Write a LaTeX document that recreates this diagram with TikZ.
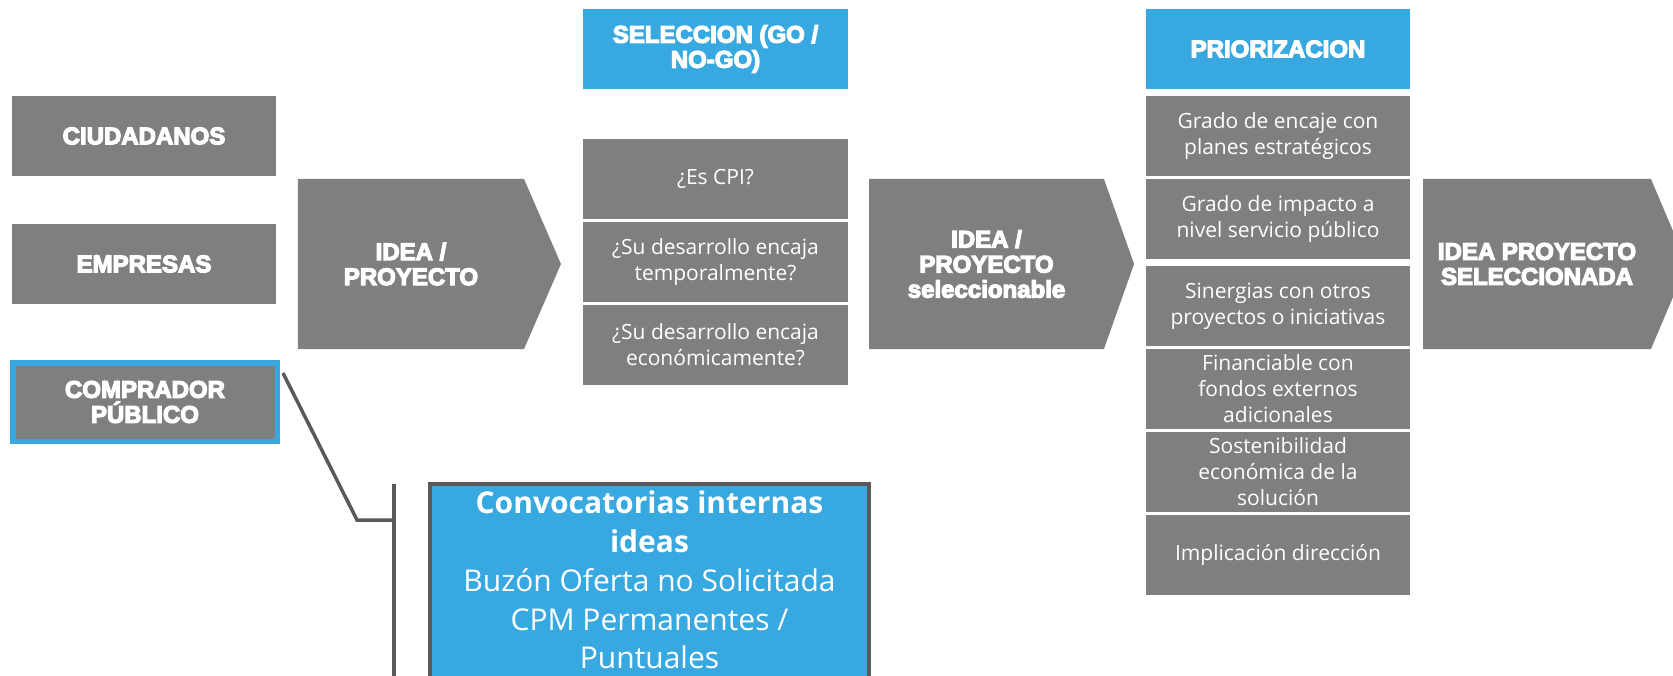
\documentclass[tikz,border=0pt]{standalone}
\usepackage{fontspec}
\setmainfont{Open Sans}
\newfontfamily\blackfont{Liberation Sans}[BoldFeatures={FakeBold=5}]
\usetikzlibrary{positioning,shapes.symbols}

\definecolor{boxgray}{HTML}{7F7F7F}
\definecolor{headblue}{HTML}{38A8E0}
\definecolor{linegray}{HTML}{595959}

\begin{document}
\begin{tikzpicture}[x=1pt, y=-1pt, node distance=83pt,
    gray box/.style={rectangle, fill=boxgray, text=white, minimum width=264pt, minimum height=80pt, inner sep=0pt, align=center},
    source box/.style={gray box, font={\blackfont\bfseries\fontsize{24}{25}\selectfont}},
    head box/.style={source box, fill=headblue},
    crit box/.style={gray box, font=\fontsize{21}{26}\selectfont},
    step arrow/.style={signal, signal to=east, signal pointer angle=133, fill=boxgray, text=white, inner sep=0pt,
                       minimum width=263pt, minimum height=170pt, align=center, font={\blackfont\bfseries\fontsize{24}{25}\selectfont}},
    bracket/.style={draw=linegray, line width=3.5pt}]
    \path[fill=white, use as bounding box] (0,0) rectangle (1673,676);
    \clip (0,0) rectangle (1673,676);

    % de donde vienen las ideas
    \node[source box] (ciud) at (144,136) {CIUDADANOS};
    \node[source box] (emp) at (144,264) {EMPRESAS};
    \node[source box, draw=headblue, line width=5.5pt, minimum width=264.5pt, minimum height=78.5pt] (comp) at (145,402) {COMPRADOR\\PÚBLICO};
    \node[step arrow] (idea) at (411,264) {IDEA /\\PROYECTO};

    % seleccion
    \node[head box, minimum width=265pt] (sel) at (715.5,49) {SELECCION (GO /\\NO-GO)};
    \node[crit box, minimum width=265pt] (q1) at (715.5,179) {¿Es CPI?};
    \node[crit box, minimum width=265pt, below of=q1] (q2) {¿Su desarrollo encaja\\temporalmente?};
    \node[crit box, minimum width=265pt, below of=q2] (q3) {¿Su desarrollo encaja\\económicamente?};
    \node[step arrow, minimum width=265pt, signal pointer angle=141] (selec) at (986.5,264) {IDEA /\\PROYECTO\\seleccionable};

    % priorizacion
    \node[head box] (prio) at (1278,49) {PRIORIZACION};
    \node[crit box] (p1) at (1278,136) {Grado de encaje con\\planes estratégicos};
    \node[crit box, below of=p1] (p2) {Grado de impacto a\\nivel servicio público};
    \node[crit box] (p3) at (1278,306) {Sinergias con otros\\proyectos o iniciativas};
    \node[crit box, below of=p3] (p4) {Financiable con\\fondos externos\\adicionales};
    \node[crit box, below of=p4] (p5) {Sostenibilidad\\económica de la\\solución};
    \node[crit box, below of=p5] (p6) {Implicación dirección};
    \node[step arrow, minimum width=264pt, signal pointer angle=134] (final) at (1537,264) {IDEA PROYECTO\\SELECCIONADA};

    % canales del comprador publico
    \node[draw=linegray, line width=4pt, fill=headblue, text=white, align=center, anchor=north,
          minimum width=439pt, inner xsep=0pt, inner ysep=7pt, text depth=20pt,
          font=\fontsize{30}{38.8}\selectfont] (conv) at (649.5,482)
          {\textbf{Convocatorias internas}\\\textbf{ideas}\\Buzón Oferta no Solicitada\\CPM Permanentes /\\Puntuales};
    \coordinate (tick) at (357,520);
    \coordinate (bartop) at (394,484);
    \coordinate (barbot) at (394,700);
    \draw[bracket] ([xshift=3pt,yshift=-13pt]comp.north east) -- (tick) -- (tick -| bartop);
    \draw[bracket] (bartop) -- (barbot);
\end{tikzpicture}
\end{document}
